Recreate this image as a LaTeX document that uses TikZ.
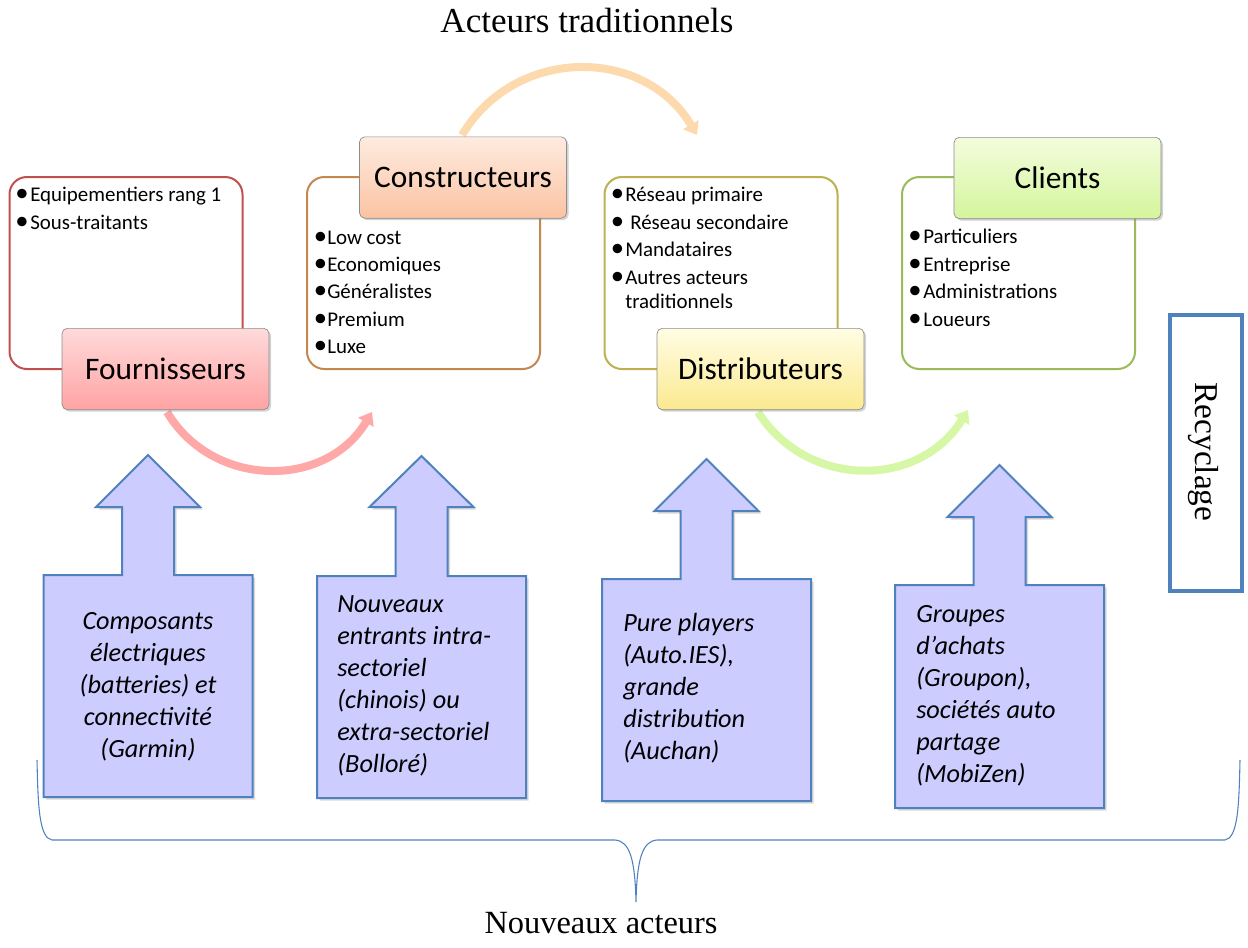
\documentclass[tikz,border=0pt]{standalone}
\usepackage{fontspec}
\setmainfont{Liberation Serif}
\newfontfamily\calib{Carlito}
\usetikzlibrary{arrows.meta,shadows}
\definecolor{redb}{HTML}{C0504D}
\definecolor{brownb}{HTML}{C3874F}
\definecolor{oliveb}{HTML}{BDB14F}
\definecolor{greenb}{HTML}{9BBB59}
\definecolor{blueb}{HTML}{4F81BD}
\definecolor{lav}{HTML}{CCCCFF}
\definecolor{pinka}{HTML}{FFA8A8}
\definecolor{peacha}{HTML}{FCDAAD}
\definecolor{greena}{HTML}{D6F7A5}
\definecolor{fT}{HTML}{FFDADA}\definecolor{fB}{HTML}{FFA3A3}
\definecolor{cT}{HTML}{FEEBE0}\definecolor{cB}{HTML}{FBC3A2}
\definecolor{dT}{HTML}{FFFDE4}\definecolor{dB}{HTML}{FBE990}
\definecolor{lT}{HTML}{F3FDDD}\definecolor{lB}{HTML}{D4F59C}
\newcommand\upblk[5]{%
  \draw[blk] (#1-104.5,#3) -- (#1-104.5,#2) -- (#1-26,#2) -- (#1-26,#4) -- (#1-52,#4) -- (#1,#5)
    -- (#1+52,#4) -- (#1+26,#4) -- (#1+26,#2) -- (#1+104.5,#2) -- (#1+104.5,#3) -- cycle;}
\begin{document}
\begin{tikzpicture}[x=0.75pt,y=-0.75pt,
  bbox/.style={draw=#1, line width=1.5pt, rounded corners=13pt, fill=white,
    minimum width=174.75pt, minimum height=144pt, inner sep=0pt},
  hdr/.style 2 args={draw=black!45, line width=0.5pt, rounded corners=4pt,
    top color=#1, bottom color=#2, minimum width=155.25pt, minimum height=61pt,
    inner sep=0pt, font=\calib\fontsize{23.5}{28}\selectfont,
    drop shadow={opacity=0.35, shadow xshift=1.5pt, shadow yshift=-1.5pt}},
  bt/.style={anchor=base west, inner sep=0pt, font=\calib\fontsize{15.7}{19}\selectfont},
  bd/.style={anchor=base, inner sep=0pt, yshift=-0.6pt, font=\calib\fontsize{20}{19}\selectfont},
  blk/.style={fill=lav, draw=blueb, line width=1.5pt, line join=miter,
    drop shadow={opacity=0.3, shadow xshift=2pt, shadow yshift=-2pt}},
  bl/.style={inner sep=0pt, font=\calib\itshape\fontsize{19.7}{24}\selectfont},
  carrow/.style={line width=6pt, -{Triangle[width=13pt,length=9pt]}},
  serif/.style={font=\fontsize{25}{30}\selectfont, inner sep=0pt}
]
\useasboundingbox (0,0) rectangle (1248,947);

% title
\node[serif, anchor=base, font=\fontsize{26.3}{30}\selectfont] (title) at (587,32) {Acteurs traditionnels};

% bullet boxes
\node[bbox=redb]   (fbox)  at (126,273) {};
\node[bbox=brownb] (cbox)  at (423.5,273) {};
\node[bbox=oliveb] (dbox)  at (721,273) {};
\node[bbox=greenb] (clbox) at (1018.5,273) {};

% curved arrows
\coordinate (fs) at (167,412);  \coordinate (fe) at (372,412);
\coordinate (cs) at (462,135);  \coordinate (ce) at (697,135);
\coordinate (ds) at (758,412);  \coordinate (de) at (968,410);
\draw[carrow, pinka] (fs) .. controls (213,489) and (326,489) .. (fe);
\draw[carrow, peacha] (cs) .. controls (515,46) and (644,46) .. (ce);
\draw[carrow, greena] (ds) .. controls (807,489) and (919,489) .. (de);

% headers
\node[hdr={fT}{fB}] (four) at (165.5,369) {Fournisseurs};
\node[hdr={cT}{cB}] (cons) at (463,177.5) {Constructeurs};
\node[hdr={dT}{dB}] (dist) at (760.5,369) {Distributeurs};
\node[hdr={lT}{lB}] (cli)  at (1057.5,178) {Clients};

% bullets: Fournisseurs
\node[bd] (fb1) at (22,201) {•}; \node[bt] (ft1) at (30,201) {Equipementiers rang 1};
\node[bd] (fb2) at (22,229) {•}; \node[bt] (ft2) at (30,229) {Sous-traitants};
% Constructeurs
\node[bd] (cb1) at (320.5,244) {•}; \node[bt] (ct1) at (327,244) {Low cost};
\node[bd] (cb2) at (320.5,271) {•}; \node[bt] (ct2) at (327,271) {Economiques};
\node[bd] (cb3) at (320.5,298) {•}; \node[bt] (ct3) at (327,298) {Généralistes};
\node[bd] (cb4) at (320.5,326) {•}; \node[bt] (ct4) at (327,326) {Premium};
\node[bd] (cb5) at (320.5,353) {•}; \node[bt] (ct5) at (327,353) {Luxe};
% Distributeurs
\node[bd] (db1) at (617.5,201) {•}; \node[bt] (dt1) at (625,201) {Réseau primaire};
\node[bd] (db2) at (617.5,229) {•}; \node[bt] (dt2) at (630,229) {Réseau secondaire};
\node[bd] (db3) at (617.5,256) {•}; \node[bt] (dt3) at (625,256) {Mandataires};
\node[bd] (db4) at (617.5,284) {•}; \node[bt] (dt4) at (625,284) {Autres acteurs};
\node[bt] (dt5) at (625,308) {traditionnels};
% Clients
\node[bd] (lb1) at (915,243) {•}; \node[bt] (lt1) at (923,243) {Particuliers};
\node[bd] (lb2) at (915,271) {•}; \node[bt] (lt2) at (923,271) {Entreprise};
\node[bd] (lb3) at (915,298) {•}; \node[bt] (lt3) at (923,298) {Administrations};
\node[bd] (lb4) at (915,326) {•}; \node[bt] (lt4) at (923,326) {Loueurs};

% recyclage
\node[draw=blueb, line width=3pt, fill=white, minimum width=54pt, minimum height=207pt, inner sep=0pt] (recbox) at (1206,452.5) {};
\node[serif, rotate=-90] (rec) at (1203,452) {Recyclage};

% new actors block arrows
\upblk{148}{575}{797}{507}{455}
\upblk{421.5}{576}{798}{507}{456}
\upblk{706.5}{579}{801}{511}{459}
\upblk{999.5}{585}{808}{517}{465}

\node[bl, align=center] (n1) at (148,687) {Composants\\électriques\\(batteries) et\\connectivité\\(Garmin)};
\node[bl, align=left, anchor=west] (n2) at (337,686) {Nouveaux\\entrants intra-\\sectoriel\\(chinois) ou\\extra-sectoriel\\(Bolloré)};
\node[bl, align=left, anchor=west] (n3) at (623,688) {Pure players\\(Auto.IES),\\grande\\distribution\\(Auchan)};
\node[bl, align=left, anchor=west] (n4) at (916,696) {Groupes\\d’achats\\(Groupon),\\sociétés auto\\partage\\(MobiZen)};

% brace
\coordinate (bl) at (37,760);
\coordinate (br) at (1240,760);
\coordinate (bm) at (636,902);
\draw[blueb, line width=0.8pt] (bl) .. controls (38,805) and (39,838) .. (52,840) -- (615,840)
  .. controls (630,841) and (635,860) .. (bm)
  .. controls (637,860) and (642,841) .. (657,840) -- (1225,840)
  .. controls (1238,838) and (1239,805) .. (br);

\node[serif, anchor=base, font=\fontsize{24.3}{30}\selectfont] (nouv) at (601,933) {Nouveaux acteurs};
\end{tikzpicture}
\end{document}
